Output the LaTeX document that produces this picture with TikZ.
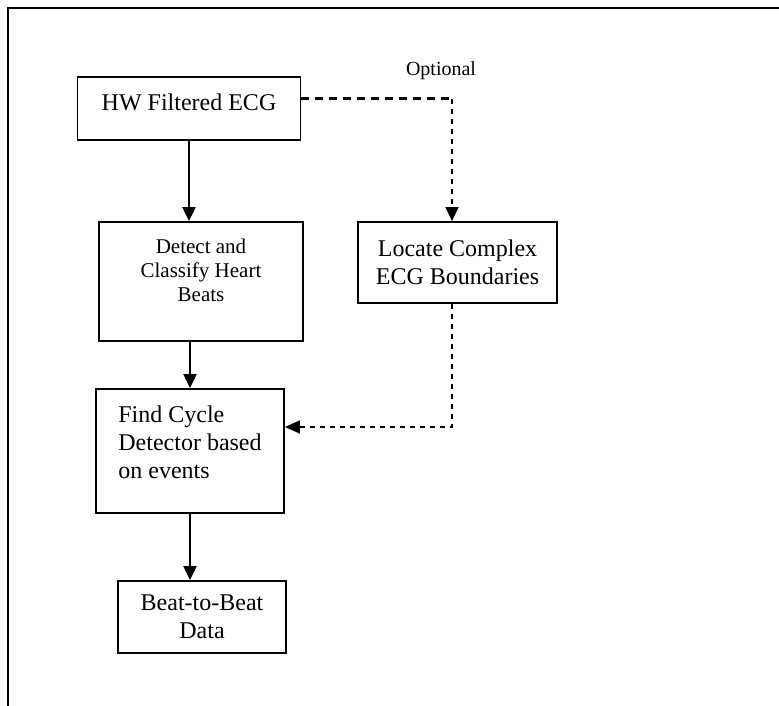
\documentclass[tikz,border=0pt]{standalone}
\usepackage{fontspec}
\setmainfont{Liberation Serif}
\usetikzlibrary{arrows.meta}

\tikzset{
  box/.style={draw, line width=1.8pt, inner sep=0pt, font=\fontsize{24}{28}\selectfont},
  flow/.style={line width=2pt, -{Triangle[length=14pt,width=13pt]}},
  optdash/.style={line width=1.4pt, dash pattern=on 5pt off 5pt},
}

\begin{document}
\begin{tikzpicture}[x=1pt,y=-1pt]
		\useasboundingbox (0,0) rectangle (779,706);
		\draw[line width=2pt] (8,706) -- (8,8) -- (779,8);
		% boxes
		\node[box, minimum width=223pt, minimum height=63pt, text depth=13pt] (hw) at (189,108.5) {HW Filtered ECG};
		\node[box, minimum width=204pt, minimum height=119pt, align=center, text depth=23pt, font=\fontsize{21}{24}\selectfont] (detect) at (201,281.5) {Detect and\\Classify Heart\\Beats};
		\node[box, minimum width=199pt, minimum height=81pt, align=center] (locate) at (457.5,262.5) {Locate Complex\\ECG Boundaries};
		\node[box, minimum width=188pt, minimum height=124pt, align=left, text depth=18pt] (cycle) at (190,451) {Find Cycle\\Detector based\\on events};
		\node[box, minimum width=168pt, minimum height=72pt, align=center] (beat) at (202,617) {Beat-to-Beat\\Data};
		\node[font=\fontsize{20}{24}\selectfont] (optional) at (441,71) {Optional};
		\coordinate (optcorner) at (452,99);
		\coordinate (backcorner) at (452,427);
		% solid path
		\draw[flow] (hw.south) -- (hw.south |- detect.north);
		\draw[flow] (cycle.north |- detect.south) -- (cycle.north);
		\draw[flow] (cycle.south) -- (cycle.south |- beat.north);
		% optional path
		\draw[line width=3pt, dash pattern=on 8pt off 6pt] (hw.east |- optcorner) -- (optcorner);
		\draw[optdash, -{Triangle[length=14pt,width=13pt]}] (optcorner) -- (optcorner |- locate.north);
		\draw[optdash, -{Triangle[length=15pt,width=13pt]}] (optcorner |- locate.south) -- (backcorner) -- (backcorner -| cycle.east);
	\end{tikzpicture}
\end{document}
